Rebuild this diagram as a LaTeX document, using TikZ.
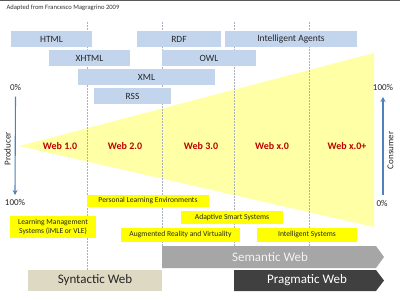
\documentclass[tikz,border=0pt]{standalone}
\usepackage{fontspec}
\setmainfont{Carlito}
\usetikzlibrary{arrows.meta}
\definecolor{boxblue}{HTML}{C3D5EC}
\definecolor{triyellow}{HTML}{FFFFA6}
\definecolor{hiyellow}{HTML}{FFFF00}
\definecolor{webred}{HTML}{C00000}
\definecolor{arrowblue}{HTML}{4F81BD}
\definecolor{dashgray}{HTML}{A9B0BE}
\definecolor{semgray}{HTML}{A6A6A6}
\definecolor{pragdark}{HTML}{404040}
\definecolor{synbeige}{HTML}{DDD9C3}
\definecolor{txtdark}{HTML}{262626}
\tikzset{
  bluebox/.style={fill=boxblue, inner sep=0pt, text=txtdark, font=\fontsize{9.5}{11}\selectfont},
  ylwbox/.style={fill=hiyellow, inner sep=0pt, text=txtdark, align=center, font=\fontsize{7.6}{9}\selectfont},
  weblabel/.style={text=webred, font=\fontsize{10}{12}\selectfont\bfseries},
  pctlabel/.style={text=txtdark, font=\fontsize{9}{11}\selectfont},
  sidelabel/.style={text=txtdark, rotate=90, font=\fontsize{9}{11}\selectfont},
  guide/.style={dashgray, line width=0.6pt, dash pattern=on 1.5pt off 1.5pt},
  bigtext/.style={font=\fontsize{13}{15}\selectfont},
  pctarrow/.style={arrowblue, line width=1.1pt, -{Stealth[length=5pt,width=5pt]}}
}
\begin{document}
\begin{tikzpicture}[x=1pt,y=-1pt]
\useasboundingbox (0,0) rectangle (400,300);
\fill[white] (0,0) rectangle (400,300);
\draw[line width=1.4pt, black!65] (0,0.7) -- (400,0.7);
\node[anchor=west, text=black!80, font=\fontsize{6.6}{8}\selectfont] (title) at (3,7.5) {Adapted from Francesco Magragrino 2009};

% triangle
\fill[triyellow] (19,146) -- (374,53) -- (374,227) -- cycle;

% guide lines
\coordinate (g1t) at (87,22);  \coordinate (g1b) at (87,270);
\coordinate (g2t) at (162,22); \coordinate (g2b) at (162,246);
\coordinate (g3t) at (234,22); \coordinate (g3b) at (234,246);
\coordinate (g4t) at (309,22); \coordinate (g4b) at (309,246);
\draw[guide] (g1t) -- (g1b);
\draw[guide] (g2t) -- (g2b);
\draw[guide] (g3t) -- (g3b);
\draw[guide] (g4t) -- (g4b);

% blue boxes
\node[bluebox, minimum width=81pt, minimum height=16pt] (html) at (51.5,39) {HTML};
\node[bluebox, minimum width=84pt, minimum height=16pt] (rdf) at (179,39) {RDF};
\node[bluebox, minimum width=132pt, minimum height=16pt] (agents) at (291,39) {Intelligent Agents};
\node[bluebox, minimum width=81pt, minimum height=16pt] (xhtml) at (89.5,58) {XHTML};
\node[bluebox, minimum width=94pt, minimum height=16pt] (owl) at (209,58) {OWL};
\node[bluebox, minimum width=137pt, minimum height=16pt] (xml) at (146.5,77) {XML};
\node[bluebox, minimum width=77pt, minimum height=16pt] (rss) at (132.5,96) {RSS};

% web labels
\node[weblabel] (w1) at (60,146) {Web 1.0};
\node[weblabel] (w2) at (125,146) {Web 2.0};
\node[weblabel] (w3) at (201,146) {Web 3.0};
\node[weblabel] (wx) at (272,146) {Web x.0};
\node[weblabel] (wxp) at (347,146) {Web x.0+};

% producer / consumer
\node[pctlabel] (p0) at (15.5,87) {0\%};
\node[pctlabel] (p100) at (15,202) {100\%};
\node[pctlabel] (c100) at (383,87) {100\%};
\node[pctlabel] (c0) at (382,203) {0\%};
\draw[pctarrow] (p0.south) ++(0,3) coordinate (pa) -- (15,195) coordinate (pb);
\draw[pctarrow] (383,195) coordinate (ca) -- (383,97) coordinate (cb);
\node[sidelabel] (prod) at (7.5,149) {Producer};
\node[sidelabel] (cons) at (390.5,150.5) {Consumer};

% yellow boxes
\node[ylwbox, minimum width=122pt, minimum height=12pt] (ple) at (148,201) {Personal Learning Environments};
\node[ylwbox, minimum width=86pt, minimum height=22pt] (lms) at (53,227) {Learning Management\\Systems (iMLE or VLE)};
\node[ylwbox, minimum width=102pt, minimum height=13pt] (ass) at (232,217.5) {Adaptive Smart Systems};
\node[ylwbox, minimum width=119pt, minimum height=14pt] (arv) at (180.5,235) {Augmented Reality and Virtuality};
\node[ylwbox, minimum width=100pt, minimum height=14pt] (is) at (307,235) {Intelligent Systems};

% web bands
\fill[semgray] (162,246) -- (376,246) -- (384,257) -- (376,268) -- (162,268) -- cycle;
\node[bigtext, text=white!95!black] (sem) at (270,257) {Semantic Web};
\fill[pragdark] (234,270) -- (376,270) -- (384,280.5) -- (376,291) -- (234,291) -- cycle;
\node[bigtext, text=white] (prag) at (307,280.5) {Pragmatic Web};
\fill[synbeige] (28,270) rectangle (162,291);
\node[bigtext, text=txtdark] (syn) at (95,280.5) {Syntactic Web};
\end{tikzpicture}
\end{document}
